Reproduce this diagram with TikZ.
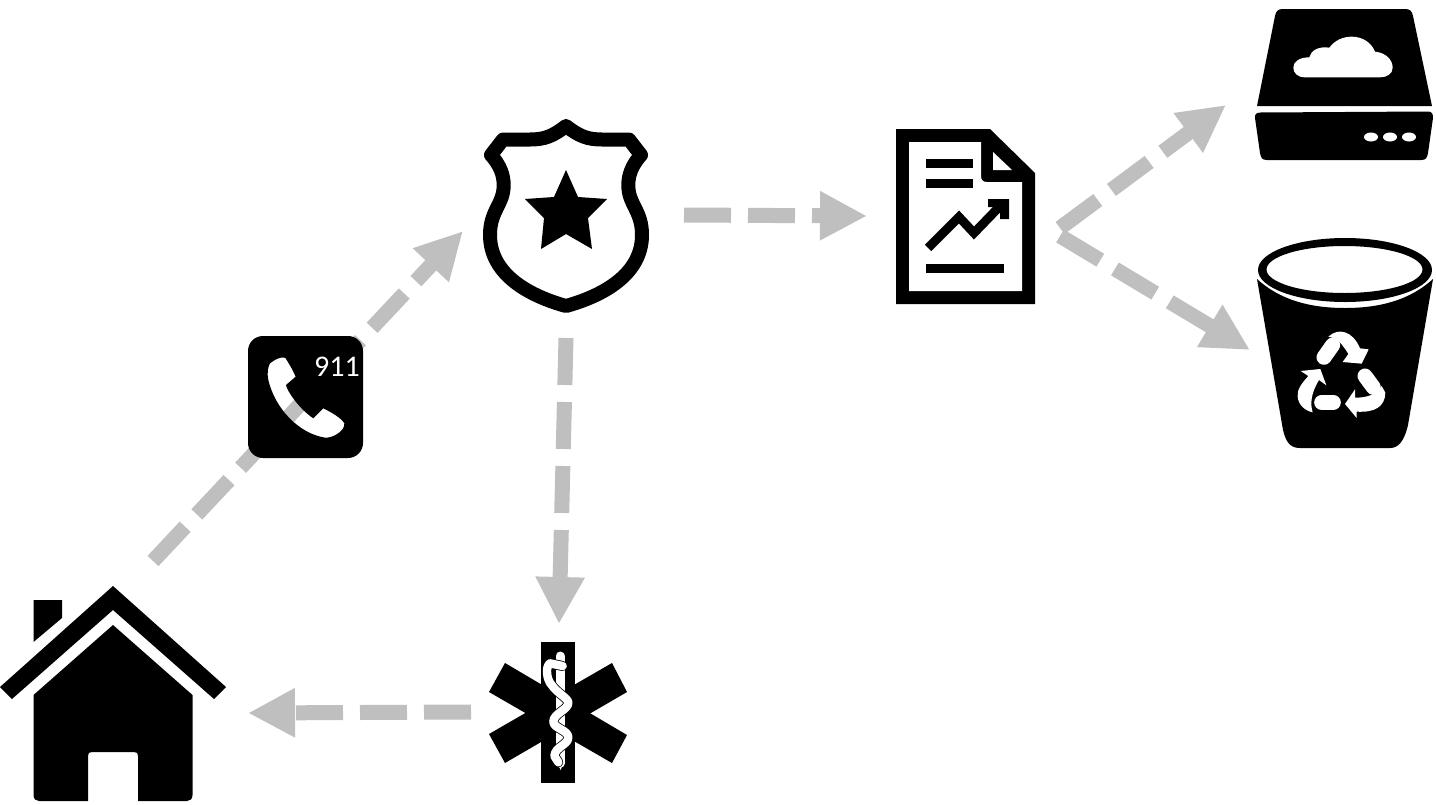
\documentclass[tikz,border=0pt]{standalone}
\usepackage{fontspec}
\setmainfont{Carlito}
\usepackage{xcolor}
\usetikzlibrary{arrows.meta}

\definecolor{dashgray}{RGB}{191,191,191}

\begin{document}
\begin{tikzpicture}[
  x=0.5pt, y=-0.5pt,
  ar/.style={-{Triangle[length=23.5pt,width=23pt]}, dashgray, line width=7.5pt,
             dash pattern=on 23.5pt off 8.5pt},
  icon/.style={fill=black, draw=none},
  hole/.style={fill=white, draw=none},
  pill/.style={draw=white, line width=7.5pt, line cap=round},
  snake/.style={draw=white, line width=4.2pt, line cap=round, line join=round}]
  \useasboundingbox (0,0) rectangle (1436,804);

  % connector ends
  \coordinate (houseout) at (153,561);
  \coordinate (policein) at (463,231);
  \coordinate (policeright) at (684,215);
  \coordinate (reportin) at (867,216);
  \coordinate (policedown) at (566,338);
  \coordinate (emsin) at (559,624);
  \coordinate (emsout) at (471,712);
  \coordinate (housein) at (248,713);
  \coordinate (reportup) at (1060,228);
  \coordinate (cloudin) at (1226,105);
  \coordinate (reportdown) at (1060,236);
  \coordinate (binin) at (1250,350);

  \draw[ar] (houseout) -- (policein);
  \draw[ar] (policeright) -- (reportin);
  \draw[ar] (policedown) -- (emsin);
  \draw[ar] (emsout) -- (housein);
  \draw[ar] (reportup) -- (cloudin);
  \draw[ar] (reportdown) -- (binin);

  % house
  \fill[icon] (113,586) -- (226,687) -- (214,699) -- (113,610) -- (12,699) -- (0,687) -- cycle;
  \fill[icon] (33.5,600) -- (62,600) -- (62,618) -- (33.5,642) -- cycle;
  \fill[icon] (113,625) -- (192.5,695) -- (192.5,795) .. controls (192.5,799) and (190,801) .. (187,801)
    -- (138,801) -- (138,756) .. controls (138,753) and (137,752) .. (134,752) -- (92,752)
    .. controls (89,752) and (88,753) .. (88,756) -- (88,801) -- (39,801)
    .. controls (36,801) and (33.5,799) .. (33.5,795) -- (33.5,695) -- cycle;

  % phone
  \fill[icon, even odd rule] [rounded corners=7.5pt] (248,336) rectangle (363,458)
    [sharp corners, shift={(235,325)}, scale=1/3]
    (105,115) .. controls (130,95) and (150,95) .. (152,100)
    .. controls (165,120) and (178,145) .. (182,155) -- (153,180)
    .. controls (155,195) and (190,250) .. (235,280) -- (265,250)
    .. controls (290,262) and (320,280) .. (328,295)
    .. controls (330,320) and (290,340) .. (270,338)
    .. controls (190,325) and (120,250) .. (100,165)
    .. controls (95,140) and (100,125) .. (105,115) -- cycle;
  \node[text=white, font=\fontsize{15}{15}\selectfont, inner sep=0pt] (num) at (337,367) {911};

  % police badge
  \draw[black, line width=7pt, line join=round]
    (566,126) .. controls (553,136) and (545,139.5) .. (530,139.5) -- (503,139.5) -- (491,155)
    .. controls (500,165) and (503.7,175) .. (503.7,185)
    .. controls (503.7,205) and (490,210) .. (490,235)
    .. controls (490,275) and (530,296) .. (566,306)
    .. controls (602,296) and (642,275) .. (642,235)
    .. controls (642,210) and (628.3,205) .. (628.3,185)
    .. controls (628.3,175) and (632,165) .. (641,155)
    -- (629,139.5) -- (602,139.5) .. controls (587,139.5) and (579,136) .. (566,126) -- cycle;
  \fill[icon] (566,170) -- (578,197) -- (607,199) -- (588,218) -- (592,249) -- (566,234)
    -- (541,249) -- (544,218) -- (525,199) -- (554,197) -- cycle;

  % report
  \fill[icon] (896,129) -- (990,129) -- (1035,173) -- (1035,304) -- (896,304) -- cycle;
  \fill[hole] (909,142) -- (981,142) -- (981,176) .. controls (981,180) and (983,182) .. (987,182)
    -- (1022,182) -- (1022,291) -- (909,291) -- cycle;
  \fill[hole] (993,152) -- (1012,170) -- (993,170) -- cycle;
  \fill[icon] (926,159) rectangle (973,168);
  \fill[icon] (926,179) rectangle (973,188);
  \fill[icon] (926,264) rectangle (1004,273);
  \draw[black, line width=4.5pt] (928,248) -- (959,217) -- (974,233) -- (1003,203);
  \fill[icon] (988,199) -- (1009,199) -- (1009,219) -- (1000,219) -- (1000,207) -- (988,207) -- cycle;

  % cloud store
  \fill[icon] (1257,106) -- (1275,16) .. controls (1276,11) and (1278,9) .. (1283,9) -- (1405,9)
    .. controls (1410,9) and (1412,11) .. (1413,16) -- (1432,106) -- cycle;
  \fill[icon] (1255,118) .. controls (1255,114) and (1256,113) .. (1260,112.5) -- (1428,111.5)
    .. controls (1432,111.5) and (1433,114) .. (1433,118) -- (1428,153)
    .. controls (1427,158) and (1426,160) .. (1421,160) -- (1267,160)
    .. controls (1262,160) and (1261,158) .. (1260,153) -- cycle;
  \begin{scope}[shift={(1240,0)}, scale=1/3]
    \fill[hole] (195,232) .. controls (172,232) and (160,218) .. (160,203)
      .. controls (160,185) and (178,172) .. (208,172)
      .. controls (212,152) and (235,138) .. (268,143)
      .. controls (285,120) and (310,110) .. (335,110)
      .. controls (370,110) and (395,130) .. (405,155)
      .. controls (438,158) and (458,180) .. (458,203)
      .. controls (458,222) and (440,232) .. (420,232) -- cycle;
  \end{scope}
  \foreach \dotx in {1371,1390,1409}
    \fill[hole] (\dotx,137) ellipse (7 and 4.5);

  % bin
  \fill[icon, even odd rule] (1345,270) ellipse (87 and 32) (1344.5,269.5) ellipse (78 and 23.5);
  \fill[icon] (1257,279) .. controls (1280,300) and (1310,308) .. (1345,308)
    .. controls (1380,308) and (1410,300) .. (1433,279)
    -- (1408,425) .. controls (1404,442) and (1398,448) .. (1390,448)
    -- (1300,448) .. controls (1290,448) and (1286,442) .. (1283,430) -- cycle;
  \begin{scope}[shift={(1240,230)}, scale=1/3]
    \draw[pill] (278,345) -- (252,382);
    \draw[pill] (375,438) -- (400,472);
    \draw[pill] (245,517) -- (280,517);
    \fill[hole] (265,320) .. controls (295,292) and (338,302) .. (360,355)
      -- (386,358) -- (365,401) -- (308,396) -- (325,372)
      .. controls (312,350) and (300,335) .. (285,325) -- cycle;
    \fill[hole] (425,468) -- (436,488) .. controls (435,530) and (405,548) .. (350,545)
      -- (350,564) -- (315,522) -- (345,478) -- (345,503)
      .. controls (375,503) and (405,498) .. (425,468) -- cycle;
    \fill[hole] (182,423) -- (241,417) -- (259,466) -- (237,450)
      .. controls (213,490) and (210,520) .. (218,547)
      .. controls (195,542) and (175,525) .. (173,500)
      .. controls (170,480) and (185,460) .. (205,438) -- cycle;
  \end{scope}

  % star of life
  \fill[icon] (541,642) rectangle (575,783);
  \fill[icon] (505,663) -- (489,692) -- (612,763) -- (627,735) -- cycle;
  \fill[icon] (612,663) -- (627,692) -- (505,763) -- (489,734) -- cycle;
  \begin{scope}[shift={(470,630)}, scale=1/3]
    \draw[white, line width=4.5pt, line cap=round] (270,78) -- (270,400);
    \fill[hole] (263,400) -- (272,420) -- (279,400) -- cycle;
    \draw[black, line width=5pt, line join=round, line cap=round]
      (278,108) -- (240,100) .. controls (225,110) and (230,150) .. (245,165)
      .. controls (262,190) and (295,205) .. (295,218)
      .. controls (295,240) and (250,250) .. (250,275)
      .. controls (250,295) and (295,300) .. (295,322)
      .. controls (295,345) and (255,350) .. (253,378) -- (265,397);
    \draw[snake]
      (278,108) -- (240,100) .. controls (225,110) and (230,150) .. (245,165)
      .. controls (262,190) and (295,205) .. (295,218)
      .. controls (295,240) and (250,250) .. (250,275)
      .. controls (250,295) and (295,300) .. (295,322)
      .. controls (295,345) and (255,350) .. (253,378) -- (265,397);
  \end{scope}
\end{tikzpicture}
\end{document}
